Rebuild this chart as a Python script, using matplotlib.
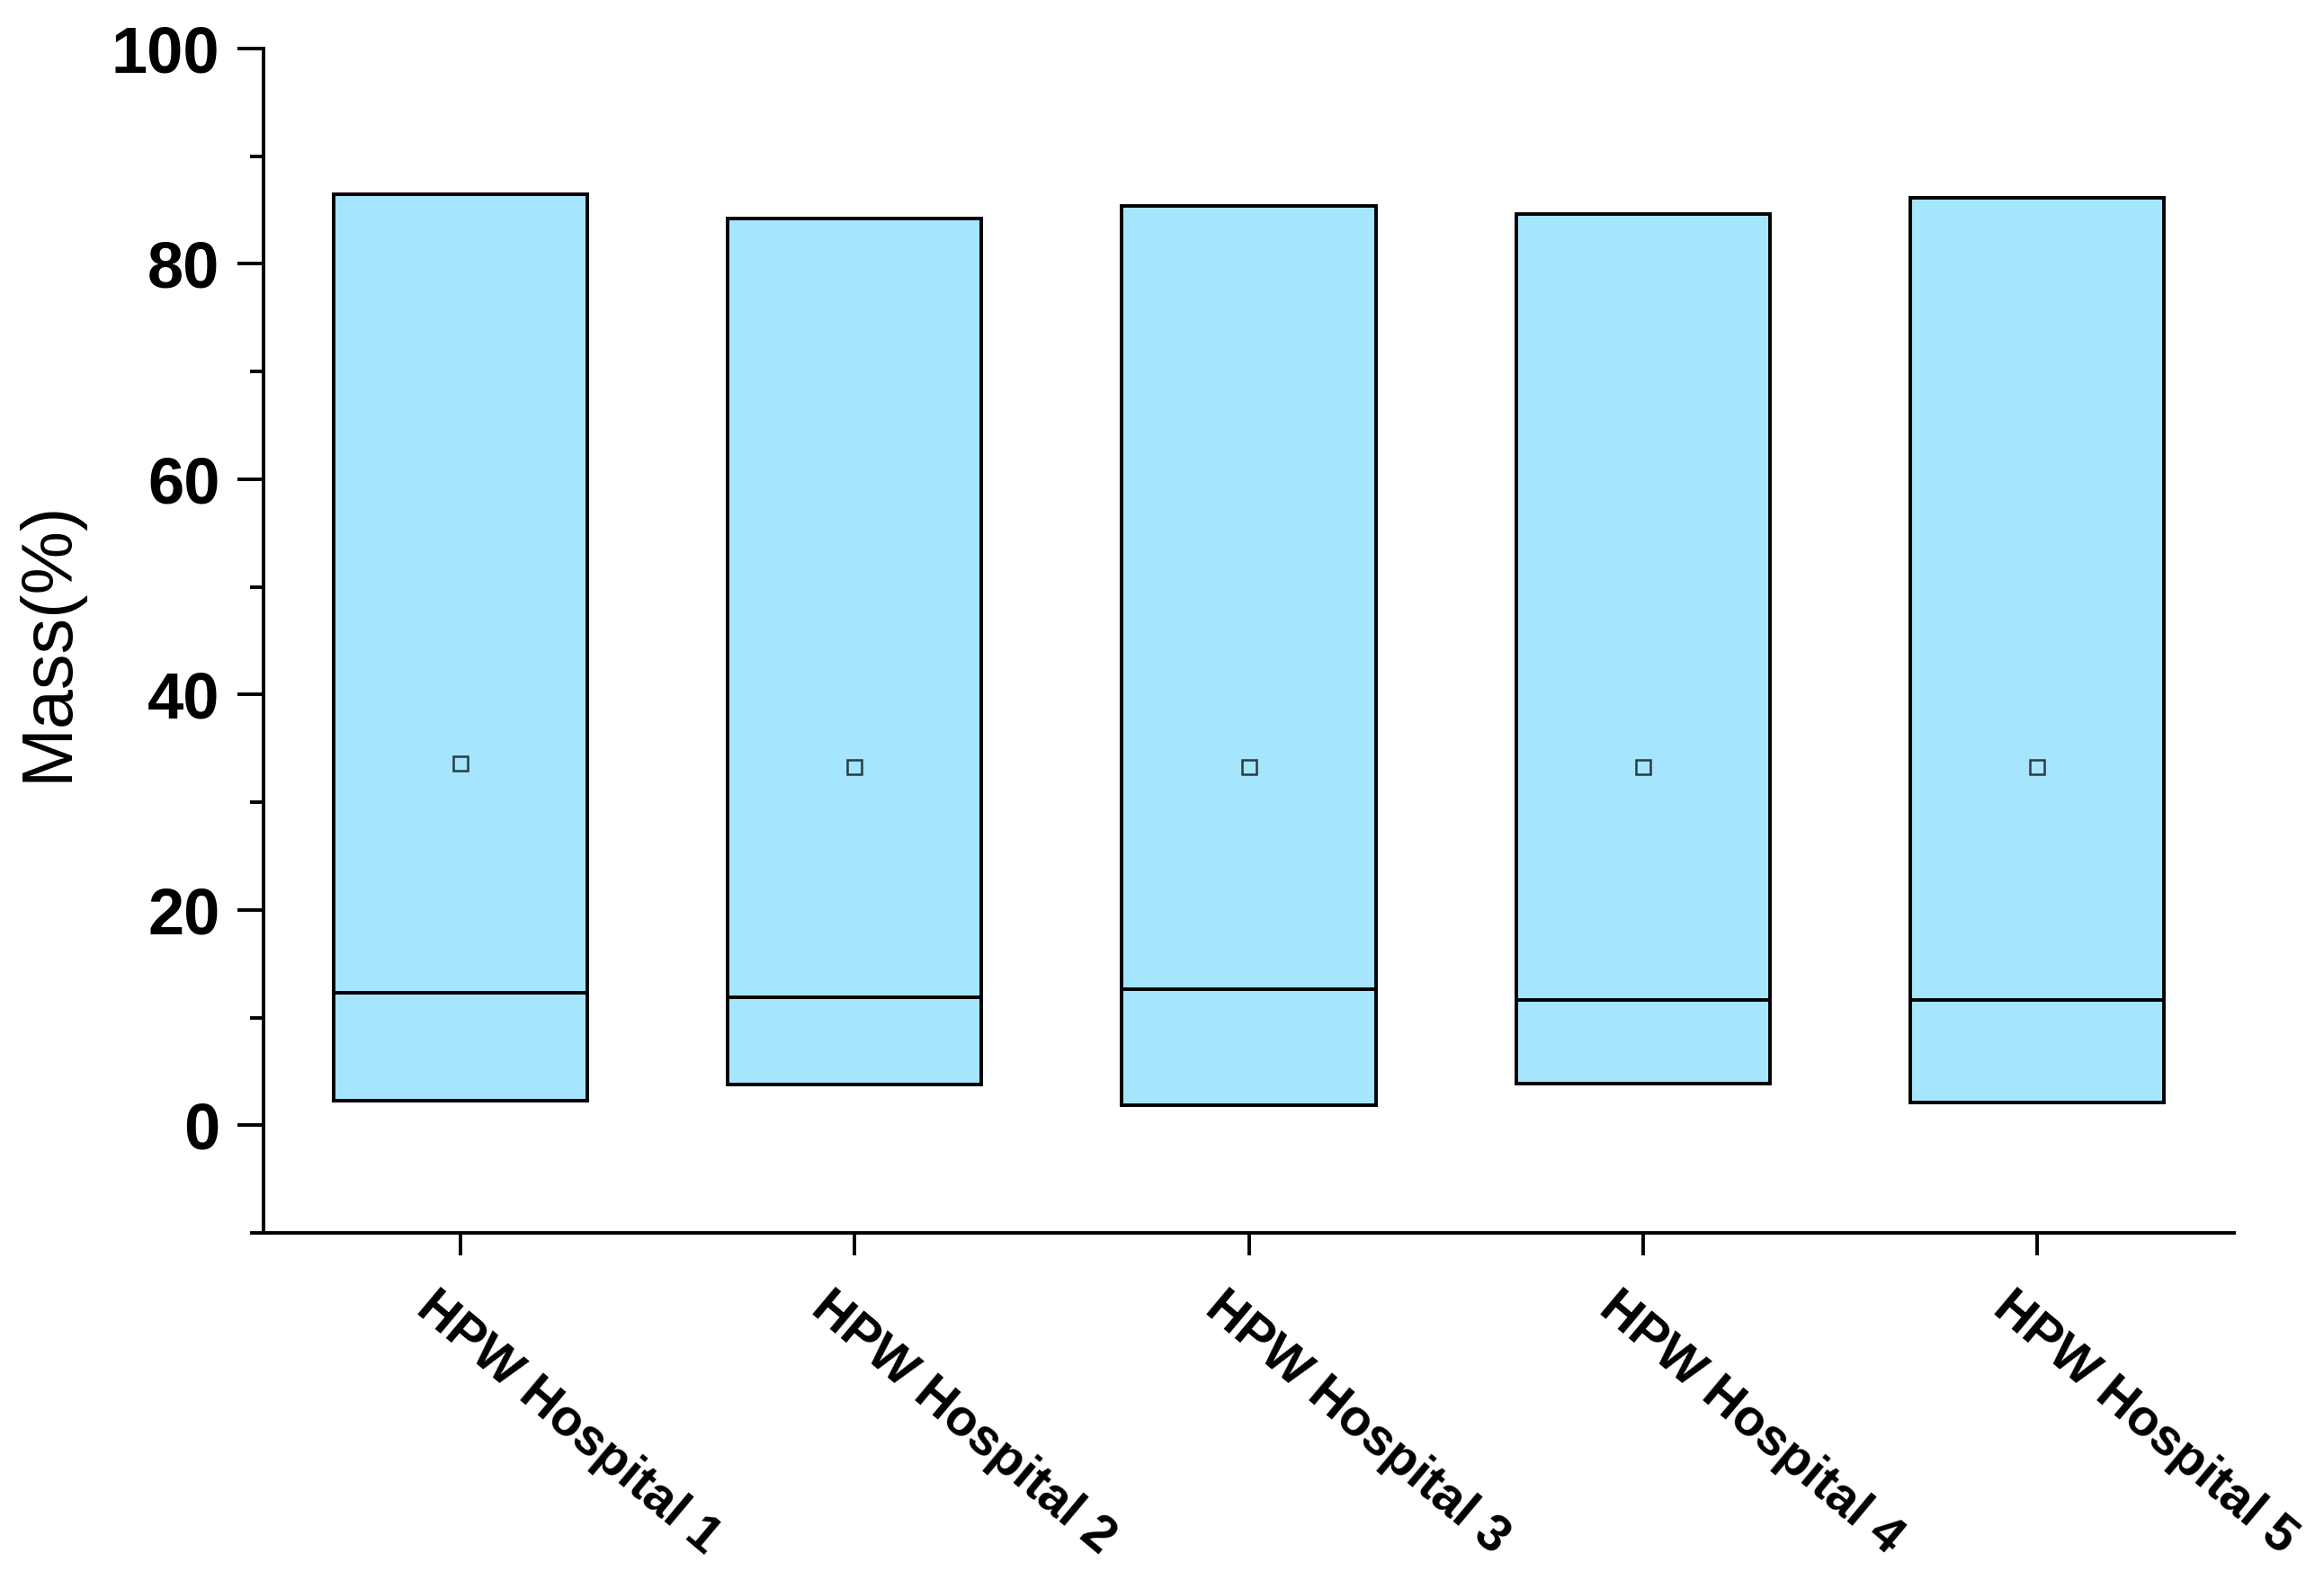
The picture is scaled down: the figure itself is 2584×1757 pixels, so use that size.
import matplotlib
matplotlib.use('Agg')
import matplotlib.pyplot as plt
from matplotlib.ticker import MultipleLocator
from matplotlib.transforms import ScaledTranslation

plt.rcParams['font.family'] = ['Liberation Sans', 'DejaVu Sans']

# box data (Mass %)
hospitals = ['HPW Hospital 1', 'HPW Hospital 2', 'HPW Hospital 3', 'HPW Hospital 4', 'HPW Hospital 5']
box_low = [2.3, 3.8, 1.9, 3.9, 2.1]
box_high = [86.5, 84.25, 85.4, 84.6, 86.1]
medians = [12.3, 11.9, 12.6, 11.6, 11.6]
means = [33.6, 33.25, 33.25, 33.25, 33.25]

fill_color = '#A5E5FE'

fig = plt.figure(figsize=(25.84, 17.57), dpi=100)
ax = fig.add_axes([0.1134, 0.2197, 0.8479, 0.7496])

stats = []
for name, lo, hi, med, mn in zip(hospitals, box_low, box_high, medians, means):
    stats.append(dict(label=name, q1=lo, q3=hi, whislo=lo, whishi=hi, med=med, mean=mn, fliers=[]))

ax.bxp(
    stats,
    positions=range(1, len(stats) + 1),
    widths=0.644,
    patch_artist=True,
    showmeans=True,
    showcaps=False,
    showfliers=False,
    boxprops=dict(facecolor=fill_color, edgecolor='black', linewidth=2.8),
    medianprops=dict(color='black', linewidth=2.8),
    whiskerprops=dict(linewidth=0),
    meanprops=dict(marker='s', markerfacecolor='none', markeredgecolor='#2b3b44',
                   markersize=11, markeredgewidth=1.8),
)

ax.set_xlim(0.5, 5.5)
ax.set_ylim(-10, 100)
ax.set_yticks([0, 20, 40, 60, 80, 100])
ax.yaxis.set_minor_locator(MultipleLocator(10))

for side in ['top', 'right']:
    ax.spines[side].set_visible(False)
for side in ['left', 'bottom']:
    ax.spines[side].set_linewidth(2.8)

ax.tick_params(axis='y', which='major', length=21, width=2.8, pad=14, labelsize=52)
ax.tick_params(axis='y', which='minor', length=11, width=2.8)
ax.tick_params(axis='x', which='major', length=18, width=2.8, pad=22)
for lab in ax.get_yticklabels():
    lab.set_fontweight('bold')

ax.set_xticks(range(1, len(hospitals) + 1))
ax.set_xticklabels(hospitals, rotation=-40, ha='left', va='top', rotation_mode='anchor',
                   fontsize=41, fontweight='bold')
shift = ScaledTranslation(-0.24, 0, fig.dpi_scale_trans)
for lab in ax.get_xticklabels():
    lab.set_transform(lab.get_transform() + shift)

ax.set_ylabel('Mass(%)', fontsize=57)
ax.yaxis.set_label_coords(-0.092, 0.5)

fig.savefig('out.png', dpi=100)
